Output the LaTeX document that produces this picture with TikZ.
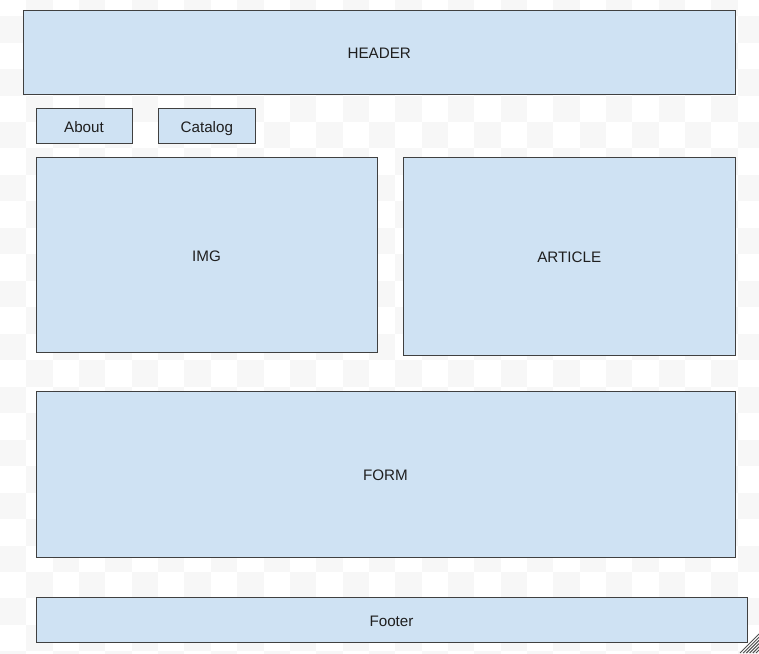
\documentclass[tikz,border=0pt]{standalone}
\usepackage{fontspec}
\setmainfont{Liberation Sans}
\usepackage{xcolor}
\usetikzlibrary{positioning}
\definecolor{boxfill}{HTML}{CFE2F3}
\definecolor{boxline}{HTML}{404040}
\definecolor{checker}{HTML}{F7F7F7}
\definecolor{gripline}{HTML}{505050}

\begin{document}
\begin{tikzpicture}[x=0.75pt, y=-0.75pt,
    wbox/.style={draw=boxline, fill=boxfill, line width=0.75pt, inner sep=0pt,
      text height=9.6pt, text depth=0pt, text=black!88,
      font=\fontsize{11.4}{13}\selectfont},
    px/.style 2 args={minimum width=#1*0.75pt, minimum height=#2*0.75pt}]
      \useasboundingbox (0, 0) rectangle (759, 653);
      \clip (0, 0) rectangle (759, 653);

      % checker background
      \foreach \i in {0,...,28} {
        \foreach \k in {-1,...,24} {
          \pgfmathtruncatemacro{\chk}{mod(\i+\k+2, 2)}
          \ifnum\chk=0
            \fill[checker] (26.35*\i, 16.1+26.47*\k) rectangle ++(26.35, 26.47);
          \fi
        }
      }

      \node[wbox, px={712}{84.5}] (header) at (379.2, 52.3) {HEADER};
      \node[wbox, px={96}{35}] (about) at (84, 125.8) {About};
      \node[wbox, px={96.5}{35}] (catalog) at (206.8, 125.8) {Catalog};
      \node[wbox, px={341}{195.5}] (img) at (206.5, 255) {IMG};
      \node[wbox, px={331.8}{197.7}] (article) at (569.2, 256.2) {ARTICLE};
      \node[wbox, px={699}{165.5}] (form) at (385.5, 474.4) {FORM};
      \node[wbox, px={711}{45.5}] (footer) at (391.5, 620) {Footer};

      % resize grip
      \foreach \m in {0,...,5}
        \draw[gripline, line width=0.75pt] (740+3.2*\m, 653) -- (759, 634+3.2*\m);

    \end{tikzpicture}
\end{document}
